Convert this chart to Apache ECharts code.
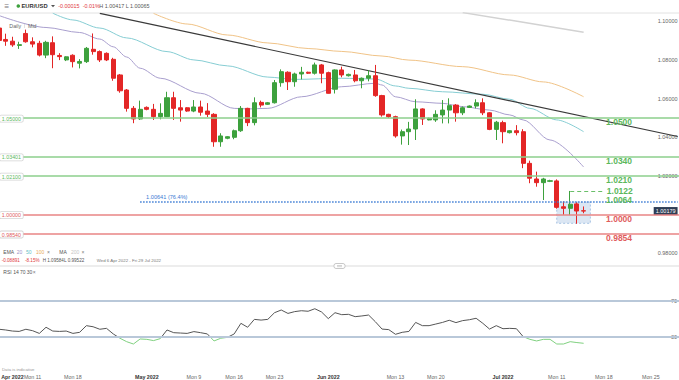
<!DOCTYPE html>
<html><head><meta charset="utf-8">
<script src="https://cdn.jsdelivr.net/npm/echarts@6.0.0/dist/echarts.min.js"></script>
<style>html,body{margin:0;padding:0;background:#fff}#c{width:679px;height:380px}</style>
</head><body><div id="c"></div>
<script>
// ---------- DATA ----------
const dates = ['2022-04-05','2022-04-06','2022-04-07','2022-04-08','2022-04-10','2022-04-11','2022-04-12','2022-04-13','2022-04-14','2022-04-15',
'2022-04-17','2022-04-18','2022-04-19','2022-04-20','2022-04-21','2022-04-22','2022-04-24','2022-04-25','2022-04-26','2022-04-27',
'2022-04-28','2022-04-29','2022-05-01','2022-05-02','2022-05-03','2022-05-04','2022-05-05','2022-05-06','2022-05-08','2022-05-09',
'2022-05-10','2022-05-11','2022-05-12','2022-05-13','2022-05-15','2022-05-16','2022-05-17','2022-05-18','2022-05-19','2022-05-20',
'2022-05-22','2022-05-23','2022-05-24','2022-05-25','2022-05-26','2022-05-27','2022-05-29','2022-05-30','2022-05-31','2022-06-01',
'2022-06-02','2022-06-03','2022-06-05','2022-06-06','2022-06-07','2022-06-08','2022-06-09','2022-06-10','2022-06-12','2022-06-13',
'2022-06-14','2022-06-15','2022-06-16','2022-06-17','2022-06-19','2022-06-20','2022-06-21','2022-06-22','2022-06-23','2022-06-24',
'2022-06-26','2022-06-27','2022-06-28','2022-06-29','2022-06-30','2022-07-01','2022-07-03','2022-07-04','2022-07-05','2022-07-06',
'2022-07-07','2022-07-08','2022-07-10','2022-07-11','2022-07-12','2022-07-13','2022-07-14','2022-07-15',
'2022-07-16','2022-07-17','2022-07-18','2022-07-19','2022-07-20','2022-07-21','2022-07-22','2022-07-23','2022-07-24','2022-07-25',
'2022-07-26','2022-07-27','2022-07-28','2022-07-29'];

const opens = [1.0966,1.0907,1.0898,1.0876,1.0938,1.0895,1.0887,1.0826,1.0890,1.0824,
1.0801,1.0825,1.0784,1.0792,1.0856,1.0844,1.0835,1.0804,1.0723,1.0645,
1.0550,1.0495,1.0555,1.0545,1.0507,1.0507,1.0605,1.0553,1.0553,1.0536,
1.0557,1.0536,1.0519,1.0377,1.0395,1.0400,1.0434,1.0550,1.0476,1.0581,
1.0571,1.0579,1.0683,1.0737,1.0688,1.0728,1.0737,1.0732,1.0775,1.0735,
1.0649,1.0749,1.0719,1.0723,1.0693,1.0706,1.0719,1.0616,1.0519,1.0507,
1.0407,1.0429,1.0443,1.0547,1.0490,1.0490,1.0516,1.0541,1.0567,1.0527,
1.0555,1.0562,1.0579,1.0527,1.0441,1.0476,1.0424,1.0434,1.0429,1.0265,
1.0184,1.0165,1.0172,1.0174,1.0040,1.0032,1.0055,1.00194];
const closes = [1.0902,1.0898,1.0879,1.0880,1.0895,1.0883,1.0826,1.0892,1.0828,1.0818,
1.0817,1.0792,1.0793,1.0861,1.0844,1.0801,1.0801,1.0706,1.0641,1.0550,
1.0495,1.0545,1.0545,1.0507,1.0524,1.0605,1.0550,1.0541,1.0536,1.0557,
1.0530,1.0519,1.0377,1.0407,1.0403,1.0434,1.0550,1.0476,1.0579,1.0567,
1.0579,1.0683,1.0740,1.0688,1.0728,1.0737,1.0732,1.0775,1.0732,1.0628,
1.0749,1.0723,1.0726,1.0693,1.0706,1.0719,1.0616,1.0516,1.0507,1.0407,
1.0429,1.0443,1.0547,1.0495,1.0498,1.0519,1.0541,1.0564,1.0527,1.0553,
1.0562,1.0579,1.0527,1.0441,1.0478,1.0429,1.0434,1.0424,1.0265,1.0188,
1.0165,1.0184,1.0175,1.0037,1.0032,1.0053,1.0018,1.00179];
const lows = [1.0895,1.0874,1.0869,1.0858,1.0890,1.0866,1.0819,1.0810,1.0758,1.0800,
1.0795,1.0762,1.0757,1.0785,1.0828,1.0790,1.0795,1.0693,1.0631,1.0533,
1.0473,1.0490,1.0540,1.0490,1.0493,1.0505,1.0490,1.0481,1.0532,1.0530,
1.0512,1.0505,1.0351,1.0351,1.0390,1.0390,1.0428,1.0458,1.0462,1.0555,
1.0568,1.0575,1.0662,1.0645,1.0662,1.0700,1.0728,1.0725,1.0680,1.0627,
1.0627,1.0711,1.0715,1.0685,1.0654,1.0690,1.0610,1.0507,1.0500,1.0398,
1.0362,1.0360,1.0386,1.0464,1.0488,1.0480,1.0472,1.0472,1.0481,1.0515,
1.0552,1.0550,1.0515,1.0437,1.0386,1.0369,1.0420,1.0410,1.0240,1.0162,
1.0144,1.0075,1.0168,1.0030,0.9998,0.9997,0.9952,1.00065];
const highs = [1.0990,1.0937,1.0921,1.0895,1.0958,1.0918,1.0900,1.0900,1.0923,1.0836,
1.0820,1.0830,1.0805,1.0868,1.0938,1.0850,1.0840,1.0812,1.0728,1.0650,
1.0562,1.0590,1.0560,1.0573,1.0576,1.0636,1.0636,1.0593,1.0556,1.0593,
1.0590,1.0577,1.0525,1.0421,1.0406,1.0440,1.0562,1.0553,1.0607,1.0590,
1.0583,1.0697,1.0752,1.0742,1.0735,1.0765,1.0740,1.0787,1.0780,1.0740,
1.0752,1.0766,1.0730,1.0749,1.0710,1.0748,1.0775,1.0620,1.0522,1.0512,
1.0440,1.0480,1.0597,1.0550,1.0502,1.0540,1.0593,1.0602,1.0572,1.0560,
1.0565,1.0597,1.0602,1.0530,1.0485,1.0486,1.0437,1.0463,1.0442,1.0279,
1.0222,1.0190,1.0180,1.0182,1.0068,1.0122,1.0064,1.00417];

const rsi14 = [38.6,37.8,36.6,36.2,38.6,37.0,34.0,40.8,36.6,36.2,
36.6,34.0,35.2,42.6,41.4,38.6,39.6,33.4,28.6,24.8,
22.2,27.8,27.4,26.0,28.2,37.8,34.8,34.4,34.0,36.0,
34.8,33.4,25.6,28.6,29.6,33.4,45.2,40.8,49.6,48.8,
49.6,57.0,60.0,56.2,58.2,59.2,58.6,61.4,57.8,50.4,
57.0,54.8,55.2,52.6,53.4,54.4,47.0,38.8,38.2,33.0,
35.2,36.2,46.2,42.6,42.6,44.4,46.2,48.6,46.0,48.2,
49.2,50.8,45.2,38.8,42.6,39.2,39.6,39.2,30.4,27.4,
25.6,27.4,27.4,22.2,22.2,24.8,23.8,23.0];

// moving averages at selected candles
const ema20 = [['2022-04-05',1.1031],['2022-04-13',1.0969],['2022-04-19',1.0943],['2022-04-22',1.0909],['2022-04-25',1.0869],
['2022-04-27',1.0816],['2022-04-29',1.0758],['2022-05-03',1.0706],['2022-05-10',1.0628],['2022-05-16',1.0550],['2022-05-18',1.0547],
['2022-05-22',1.0550],['2022-05-27',1.0610],['2022-06-03',1.0662],['2022-06-09',1.0680],['2022-06-10',1.0671],['2022-06-13',1.0610],
['2022-06-16',1.0584],['2022-06-21',1.0576],['2022-06-24',1.0559],['2022-06-29',1.0541],['2022-07-03',1.0516],['2022-07-05',1.0490],
['2022-07-10',1.0386],['2022-07-15',1.0246]];
const ema50 = [['2022-04-14',1.1043],['2022-04-18',1.1008],['2022-04-22',1.0966],['2022-04-27',1.0915],['2022-05-04',1.0844],
['2022-05-09',1.0801],['2022-05-15',1.0770],['2022-05-22',1.0712],['2022-05-26',1.0700],['2022-06-03',1.0706],['2022-06-09',1.0702],
['2022-06-13',1.0666],['2022-06-15',1.0654],['2022-06-21',1.0636],['2022-06-28',1.0623],['2022-07-03',1.0597],['2022-07-06',1.0550],
['2022-07-11',1.0490],['2022-07-15',1.0429]];
const ema100 = [['2022-05-02',1.1042],['2022-05-08',1.0987],['2022-05-15',1.0930],['2022-05-22',1.0889],['2022-05-29',1.0860],
['2022-06-03',1.0845],['2022-06-10',1.0821],['2022-06-15',1.0800],['2022-06-24',1.0766],['2022-07-03',1.0723],['2022-07-08',1.0687],
['2022-07-15',1.0610]];
const ma200 = [['2022-06-24',1.1046],['2022-07-05',1.0996],['2022-07-15',1.0944]];
const trendline = [['2022-04-22',1.1042],['2022-07-29',1.0404]];

// horizontal levels
const levelValues = [1.0500, 1.0340, 1.0210, 1.0000, 0.9854];
const levelTexts  = ['1.0500','1.0340','1.0210','1.0000','0.9854'];
const levelTags   = ['1.05000','1.03401','1.02100','1.00000','0.98540'];
const levelKinds  = ['res','res','res','sup','sup'];
const fibValue = 1.00641, fibTag = '1.00641 (76.4%)', fibText = '1.0064';
const fibFrom = '2022-04-29', fibTo = '2022-07-29';
const swingHigh = 1.0122, swingText = '1.0122', swingFrom = '2022-07-13', swingTo = '2022-07-18';
const zoneTop = 1.00641, zoneBottom = 0.99544, zoneFrom = '2022-07-11', zoneTo = '2022-07-16';

const lastPrice = 1.00179;
const yTicks = [0.98, 1.02, 1.04, 1.06, 1.08, 1.10];
const rsiTicks = [30, 70];
const rsiLevels = [70, 30];
const xTickDates = ['2022-04-07','2022-04-11','2022-04-18','2022-05-01','2022-05-09','2022-05-16','2022-05-23',
'2022-06-01','2022-06-13','2022-06-20','2022-07-01','2022-07-11','2022-07-18','2022-07-25'];
const xTickTexts = ['Apr 2022','Mon 11','Mon 18','May 2022','Mon 9','Mon 16','Mon 23',
'Jun 2022','Mon 13','Mon 20','Jul 2022','Mon 11','Mon 18','Mon 25'];

// ---------- CHART ----------
const FONT = '"Liberation Sans", Arial, sans-serif';
const UP = '#3da13d', DOWN = '#e32626';
const G_LINE = '#8ccf8c', G_TEXT = '#5cb85c', R_LINE = '#e88484', R_TEXT = '#e05c5c', BLUE = '#3b7bd4';

const candles = opens.map((o, i) => [o, closes[i], lows[i], highs[i]]);

const mlData = [];
levelValues.forEach((v, i) => {
  const sup = levelKinds[i] === 'sup';
  mlData.push({ yAxis: v, lineStyle: { color: sup ? R_LINE : G_LINE, width: 1.5, type: 'solid' },
    label: { show: true, formatter: levelTexts[i], position: 'insideEndBottom', distance: [49, 0],
      color: sup ? R_TEXT : G_TEXT, fontSize: 8.5, fontWeight: 'bold', fontFamily: FONT } });
  mlData.push({ yAxis: v, lineStyle: { color: 'rgba(0,0,0,0)', width: 0.1 },
    label: { show: true, formatter: levelTags[i], position: 'insideStartTop', distance: [4.4, -3.8],
      color: sup ? R_TEXT : G_TEXT, fontSize: 5.3, fontFamily: FONT, backgroundColor: '#fff',
      borderColor: '#d3d3d3', borderWidth: 0.8, borderRadius: 1, padding: [0.6, 1.8] } });
});
mlData.push([{ coord: [fibFrom, fibValue], lineStyle: { color: BLUE, width: 1.5, type: 'dotted' },
  label: { show: true, formatter: fibTag, position: 'insideStartTop', distance: [6, 2], color: BLUE, fontSize: 5.6, fontFamily: FONT } },
  { coord: [fibTo, fibValue] }]);
mlData.push({ yAxis: fibValue, lineStyle: { color: 'rgba(0,0,0,0)', width: 0.1 },
  label: { show: true, formatter: fibText, position: 'insideEndBottom', distance: [49, 0.5], color: G_TEXT, fontSize: 8.5, fontWeight: 'bold', fontFamily: FONT } });
mlData.push([{ coord: [swingFrom, swingHigh], lineStyle: { color: '#6abf69', width: 1.2, type: [4, 3] },
  label: { show: true, formatter: swingText, position: 'end', distance: [3, 0], color: G_TEXT, fontSize: 8.5, fontWeight: 'bold', fontFamily: FONT } },
  { coord: [swingTo, swingHigh] }]);

function txt(x, y, s, color, size, weight) {
  return { type: 'text', x: x, y: y, silent: true, z: 100,
    style: { text: s, fill: color, fontSize: size, fontFamily: FONT, fontWeight: weight || 'normal', verticalAlign: 'middle', align: 'left' } };
}

const option = {
  animation: false,
  backgroundColor: '#fff',
  textStyle: { fontFamily: FONT },
  grid: [
    { left: -4.36, right: -2.08, top: 13, height: 253, outerBoundsMode: 'none', containLabel: false },
    { left: -4.36, right: -2.08, top: 266, height: 106, outerBoundsMode: 'none', containLabel: false }
  ],
  xAxis: [
    { type: 'category', gridIndex: 0, data: dates, boundaryGap: true, show: false },
    { type: 'category', gridIndex: 1, data: dates, boundaryGap: true,
      axisLine: { show: false }, axisTick: { show: false }, splitLine: { show: false },
      axisLabel: { show: true, margin: 2, fontSize: 5.3, color: '#666', hideOverlap: false, showMinLabel: true, showMaxLabel: true,
        interval: (idx, val) => xTickDates.indexOf(val) >= 0,
        formatter: (val) => { const t = xTickTexts[xTickDates.indexOf(val)] || ''; return t.indexOf('2022') >= 0 ? '{m|' + t + '}' : t; },
        rich: { m: { fontSize: 5.3, fontWeight: 'bold', color: '#333', fontFamily: FONT } } } }
  ],
  yAxis: [
    { type: 'value', gridIndex: 0, position: 'right', min: 0.973316, max: 1.104404, scale: true,
      splitLine: { show: false }, axisLine: { show: false }, axisTick: { show: false },
      axisLabel: { inside: true, margin: 3.5, fontSize: 5.5, color: '#666', fontFamily: FONT,
        customValues: yTicks.concat([lastPrice]),
        formatter: (v) => Math.abs(v - lastPrice) < 1e-7 ? '{tag|' + lastPrice.toFixed(5) + '}' : v.toFixed(5),
        rich: { tag: { backgroundColor: '#2f3e56', color: '#fff', fontSize: 5.5, padding: [1, 2], fontFamily: FONT } } } },
    { type: 'value', gridIndex: 1, position: 'right', min: -8.9, max: 108.9,
      splitLine: { show: false }, axisLine: { show: false }, axisTick: { show: false },
      axisLabel: { inside: true, margin: 4, fontSize: 5.5, color: '#666', customValues: rsiTicks, fontFamily: FONT } }
  ],
  visualMap: [{ type: 'piecewise', show: false, seriesIndex: 7, dimension: 1,
    pieces: [{ gte: -50, lt: 30, color: '#7fd07f' }, { gte: 30, lte: 150, color: '#555555' }] }],
  series: [
    { name: 'levels', type: 'line', xAxisIndex: 0, yAxisIndex: 0, data: [], z: 1,
      markLine: { silent: true, symbol: ['none', 'none'], animation: false, data: mlData },
      markArea: { silent: true, itemStyle: { color: 'rgba(184,206,232,0.5)', borderColor: '#a7c3e3', borderWidth: 1, borderType: [2, 2] },
        data: [[{ coord: [zoneFrom, zoneTop] }, { coord: [zoneTo, zoneBottom] }]] } },
    { name: 'EMA 20', type: 'line', data: ema20, showSymbol: false, smooth: 0.3, smoothMonotone: 'x', z: 2,
      lineStyle: { color: '#a99fce', width: 1 } },
    { name: 'EMA 50', type: 'line', data: ema50, showSymbol: false, smooth: 0.3, smoothMonotone: 'x', z: 2,
      lineStyle: { color: '#86cdd3', width: 1 } },
    { name: 'EMA 100', type: 'line', data: ema100, showSymbol: false, smooth: 0.3, smoothMonotone: 'x', z: 2,
      lineStyle: { color: '#f0c387', width: 1 } },
    { name: 'MA 200', type: 'line', data: ma200, showSymbol: false, z: 2,
      lineStyle: { color: '#d2d2d2', width: 1.5 } },
    { name: 'Trend', type: 'line', data: trendline, showSymbol: false, z: 2,
      lineStyle: { color: '#3a3a3a', width: 1.2 } },
    { name: 'EUR/USD', type: 'candlestick', data: candles, barWidth: 4.6, z: 3,
      itemStyle: { color: UP, color0: DOWN, borderColor: UP, borderColor0: DOWN, borderWidth: 1 } },
    { name: 'RSI', type: 'line', xAxisIndex: 1, yAxisIndex: 1, data: rsi14, showSymbol: false, z: 3,
      lineStyle: { width: 1 },
      markLine: { silent: true, symbol: ['none', 'none'], label: { show: false },
        lineStyle: { color: '#b9c8d9', width: 2, type: 'solid' },
        data: rsiLevels.map(v => ({ yAxis: v })) } }
  ],
  graphic: [
    { type: 'line', silent: true, shape: { x1: 0, y1: 13, x2: 679, y2: 13 }, style: { stroke: '#e2e2e2', lineWidth: 1 } },
    { type: 'line', silent: true, shape: { x1: 0, y1: 266, x2: 679, y2: 266 }, style: { stroke: '#dcdcdc', lineWidth: 1.2 } },
    { type: 'rect', silent: true, shape: { x: 334, y: 263.5, width: 11, height: 5, r: 2 }, style: { fill: '#fff', stroke: '#bbb', lineWidth: 0.8 } },
    { type: 'line', silent: true, shape: { x1: 337, y1: 265.5, x2: 342, y2: 265.5 }, style: { stroke: '#aaa', lineWidth: 0.5 } },
    { type: 'line', silent: true, shape: { x1: 337, y1: 266.7, x2: 342, y2: 266.7 }, style: { stroke: '#aaa', lineWidth: 0.5 } },
    txt(4.5, 6, '≡', '#777', 8),
    { type: 'circle', silent: true, shape: { cx: 18.3, cy: 6, r: 1.8 }, style: { fill: UP } },
    txt(21.5, 6, 'EUR/USD', '#333', 5.8, 'bold'),
    { type: 'polygon', silent: true, shape: { points: [[51, 5], [55, 5], [53, 7.3]] }, style: { fill: '#555' } },
    txt(58.3, 6, '-0.00015', '#e0393e', 5.4),
    txt(82.7, 6, '-0.01%', '#e0393e', 5.4),
    txt(99.3, 6, 'H 1.00417', '#555', 5.4),
    txt(125.7, 6, 'L 1.00065', '#555', 5.4),
    txt(9.3, 26, 'Daily', '#666', 5.3),
    { type: 'line', silent: true, shape: { x1: 24.5, y1: 24, x2: 24.5, y2: 28 }, style: { stroke: '#ccc', lineWidth: 0.6 } },
    txt(28, 26, 'Mid', '#666', 5.3),
    txt(3.3, 252.3, 'EMA', '#555', 5),
    txt(16.7, 252.3, '20', '#9c8fc8', 5),
    txt(26, 252.3, '50', '#5fc0c6', 5),
    txt(36, 252.3, '100', '#e9ab5a', 5),
    txt(47, 252.3, '×', '#777', 5),
    txt(59.3, 252.3, 'MA', '#555', 5),
    txt(71, 252.3, '200', '#c6c6c6', 5),
    txt(81.5, 252.3, '×', '#777', 5),
    txt(1.7, 260.2, '-0.08891', '#e0393e', 4.6),
    txt(25, 260.2, '-8.15%', '#e0393e', 4.6),
    txt(42.7, 260.2, 'H 1.09584', '#555', 4.6),
    txt(64, 260.2, 'L 0.99522', '#555', 4.6),
    txt(96.7, 260.2, 'Wed 6 Apr 2022 - Fri 29 Jul 2022', '#777', 4.4),
    txt(3.3, 271.8, 'RSI', '#555', 5),
    txt(13.3, 271.8, '14', '#555', 5),
    txt(20, 271.8, '70', '#555', 5),
    txt(26.7, 271.8, '30', '#555', 5),
    txt(32.7, 271.8, '×', '#777', 5),
    txt(2, 369, 'Data is indicative', '#999', 4.3)
  ]
};

const chart = echarts.init(document.getElementById('c'), null, { renderer: 'svg' });
chart.setOption(option);
</script>
</body></html>
